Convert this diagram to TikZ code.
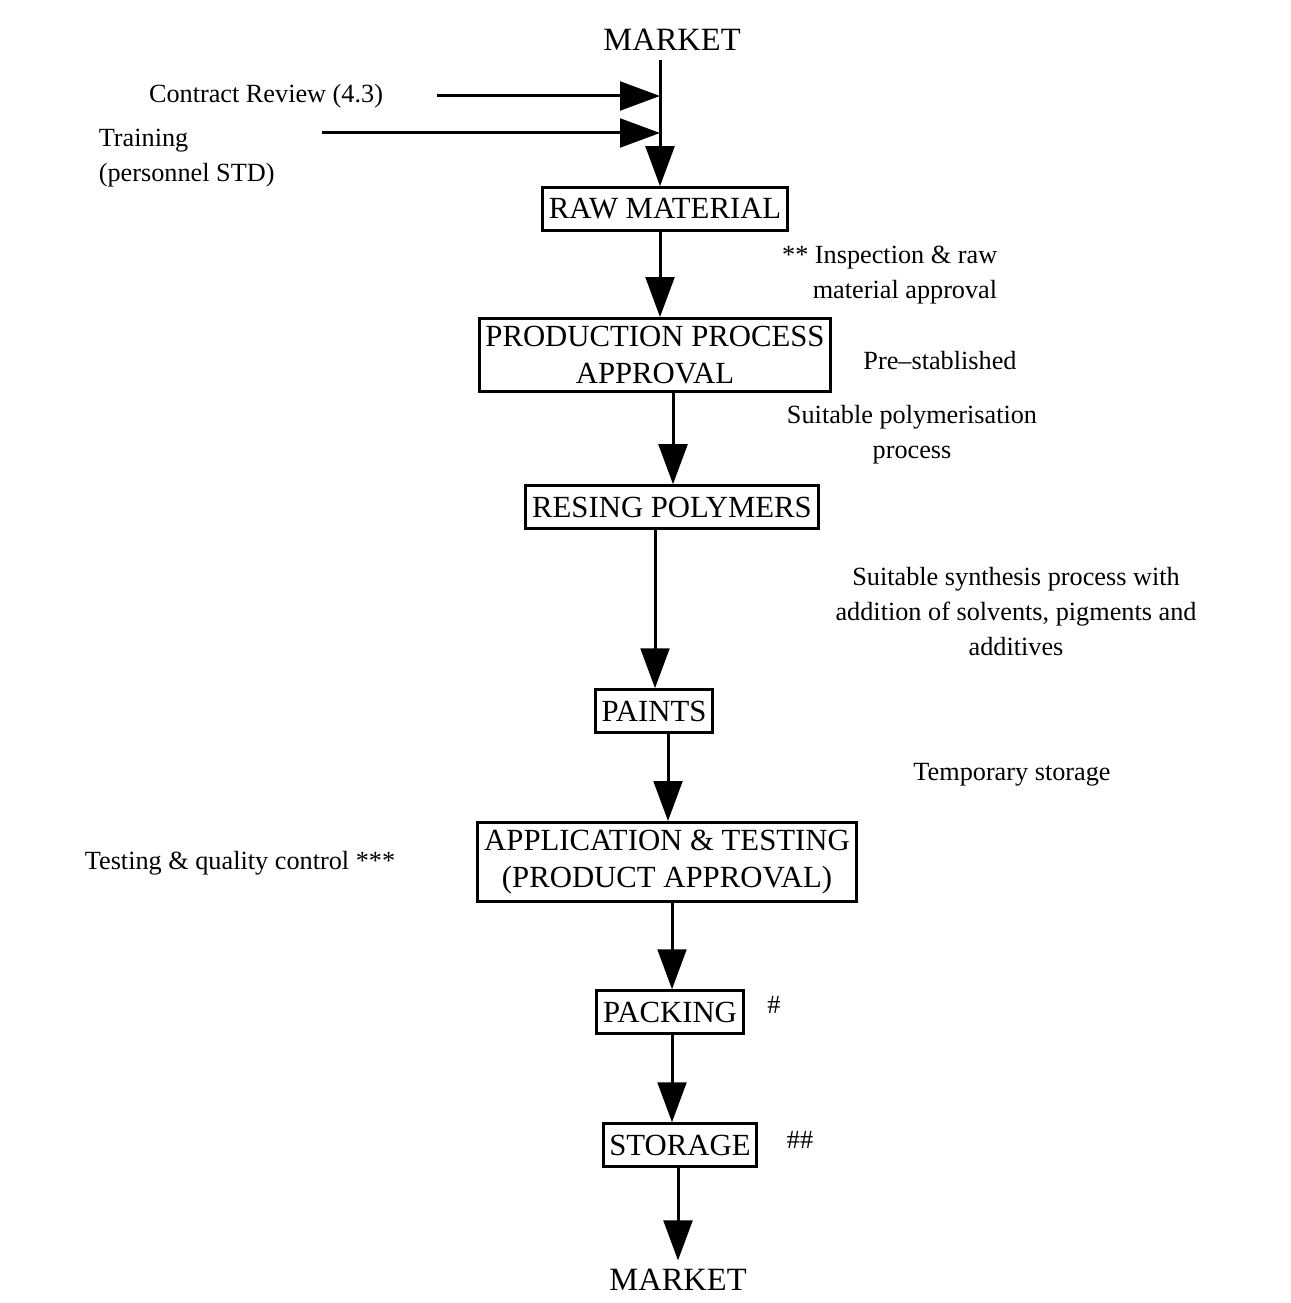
\documentclass[tikz,border=0pt]{standalone}
\usepackage{fontspec}
\setmainfont{Liberation Serif}
\usetikzlibrary{arrows.meta, positioning}

\begin{document}
\begin{tikzpicture}[x=0.4pt, y=-0.4pt,
        stage/.style={rectangle, draw, line width=1.2pt, inner xsep=2.5pt, inner ysep=3pt,
                      minimum height=17pt, align=center, font=\fontsize{12.3}{14.8}\selectfont},
        ends/.style={font=\fontsize{13}{14.6}\selectfont},
        note/.style={align=center, font=\fontsize{10.5}{14}\selectfont},
        flow/.style={-{Triangle[length=16pt, width=11.5pt]}, line width=1.2pt}
    ]
        \useasboundingbox (0,0) rectangle (1290,1303);
        % main chain
        \node[ends] (top) at (672,40) {MARKET};
        \node[stage] (raw) at (665,209) {RAW MATERIAL};
        \node[stage] (ppa) at (655,355) {PRODUCTION PROCESS\\APPROVAL};
        \node[stage] (resin) at (672,507) {RESING POLYMERS};
        \node[stage] (paints) at (654,711) {PAINTS};
        \node[stage] (app) at (667,862) {APPLICATION \& TESTING\\(PRODUCT APPROVAL)};
        \node[stage] (pack) at (670,1012) {PACKING};
        \node[stage] (store) at (680,1145) {STORAGE};
        \node[ends] (bottom) at (678,1280) {MARKET};
        \foreach \a/\b/\x in {top/raw/660, raw/ppa/660, ppa/resin/673, resin/paints/655,
                              paints/app/668, app/pack/672, pack/store/672, store/bottom/678}
        {
            \draw[flow] (\a.south -| \x,0) -- (\b.north -| \x,0);
        }
        % inputs at the top
        \coordinate (crtip) at (660,96);
        \coordinate (trtip) at (660,133);
        \node[note] (contract) at (266,96) {Contract Review (4.3)};
        \node[note, align=left, anchor=west] (training) at (90,158) {Training\\(personnel STD)};
        \draw[flow] (437,96) -- (crtip);
        \draw[flow] (322,133) -- (trtip);
        % side notes
        \node[note, align=right, anchor=east] (insp) at (1006,275) {** Inspection \& raw\\material approval};
        \node[note] (prest) at (940,361) {Pre--stablished};
        \node[note] (poly) at (912,435) {Suitable polymerisation\\process};
        \node[note] (synth) at (1016,612) {Suitable synthesis process with\\addition of solvents, pigments and\\additives};
        \node[note] (temp) at (1012,775) {Temporary storage};
        \node[note] (qc) at (240,863) {Testing \& quality control ***};
        \node[note] (hash) at (774,1005) {\#};
        \node[note] (hashes) at (800,1140) {\#\#};
    \end{tikzpicture}
\end{document}
